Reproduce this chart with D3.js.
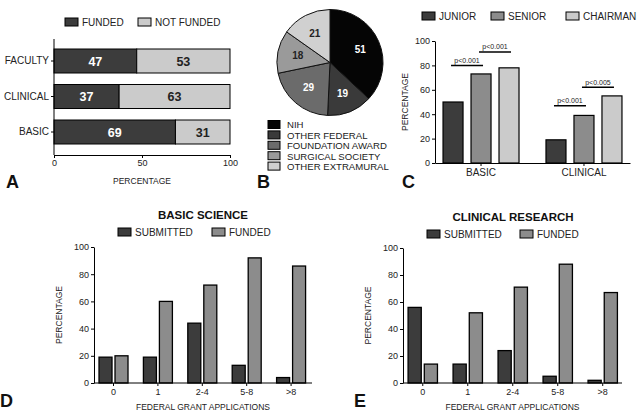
<!DOCTYPE html>
<html><head><meta charset="utf-8">
<script src="https://cdn.jsdelivr.net/npm/d3@7"></script>
<style>body{margin:0;background:#fff}svg{display:block;font-family:"Liberation Sans",Arial,sans-serif}</style>
</head><body>
<svg id="c" width="639" height="418"></svg>
<script>
// ---- DATA ----
const aCategories = ["FACULTY", "CLINICAL", "BASIC"];
const aFunded = [47, 37, 69];
const aNotFunded = [53, 63, 31];
const aTicks = [0, 50, 100];

const pieLabels = ["NIH", "OTHER FEDERAL", "FOUNDATION AWARD", "SURGICAL SOCIETY", "OTHER EXTRAMURAL"];
const pieValues = [51, 19, 29, 18, 21];

const cGroups = ["BASIC", "CLINICAL"];
const cSeries = ["JUNIOR", "SENIOR", "CHAIRMAN"];
const cBasic = [50, 73, 78];
const cClinical = [19, 39, 55];
const cTicks = [0, 20, 40, 60, 80, 100];

const appCategories = ["0", "1", "2-4", "5-8", ">8"];
const appSeries = ["SUBMITTED", "FUNDED"];
const dSubmitted = [19, 19, 44, 13, 4];
const dFunded = [20, 60, 72, 92, 86];
const eSubmitted = [56, 14, 24, 5, 2];
const eFunded = [14, 52, 71, 88, 67];

// ---- STYLE ----
const DARK = "#3c3c3c", MID = "#8c8c8c", LIGHT = "#cbcbcb";
const svg = d3.select("#c");
const T = "#222";

function legendItem(g, x, y, color, label, fs) {
  g.append("rect").attr("x", x).attr("y", y).attr("width", 13).attr("height", 8)
    .attr("fill", color).attr("stroke", "#000").attr("stroke-width", 1);
  g.append("text").attr("x", x + 17).attr("y", y + 7.5).attr("font-size", fs || 10).attr("fill", T).text(label);
}
function panelLetter(x, y, t) {
  svg.append("text").attr("x", x).attr("y", y).attr("font-size", 18).attr("font-weight", "bold").attr("fill", "#111").text(t);
}
function styleAxis(g, fs) {
  g.selectAll("path,line").attr("stroke", "#000").attr("stroke-width", 1);
  g.selectAll("text").attr("font-size", fs).attr("fill", T).attr("font-family", "Liberation Sans, Arial, sans-serif");
}

// ---- PANEL A ----
{
  const g = svg.append("g");
  const x = d3.scaleLinear().domain([0, 100]).range([54, 230]);
  const y = d3.scaleBand().domain(aCategories).range([43.25, 149.75]).paddingInner(0.324).paddingOuter(0.162);
  aCategories.forEach((c, i) => {
    g.append("rect").attr("x", x(0)).attr("y", y(c)).attr("width", x(aFunded[i]) - x(0)).attr("height", y.bandwidth())
      .attr("fill", DARK).attr("stroke", "#000").attr("stroke-width", 1);
    g.append("rect").attr("x", x(aFunded[i])).attr("y", y(c)).attr("width", x(100) - x(aFunded[i])).attr("height", y.bandwidth())
      .attr("fill", LIGHT).attr("stroke", "#000").attr("stroke-width", 1);
    g.append("text").attr("x", (x(0) + x(aFunded[i])) / 2).attr("y", y(c) + y.bandwidth() / 2 + 4.5)
      .attr("text-anchor", "middle").attr("font-size", 12.5).attr("font-weight", "bold").attr("fill", "#fff").text(aFunded[i]);
    g.append("text").attr("x", (x(aFunded[i]) + x(100)) / 2).attr("y", y(c) + y.bandwidth() / 2 + 4.5)
      .attr("text-anchor", "middle").attr("font-size", 12.5).attr("font-weight", "bold").attr("fill", "#222").text(aNotFunded[i]);
  });
  const ya = g.append("g").attr("transform", "translate(54,0)").call(d3.axisLeft(y).tickSize(3).tickPadding(2));
  ya.select(".domain").attr("d", "M0,39V155");
  styleAxis(ya, 10);
  const xa = g.append("g").attr("transform", "translate(0,155)").call(d3.axisBottom(x).tickValues(aTicks).tickSize(3).tickPadding(2).tickSizeOuter(0));
  styleAxis(xa, 9);
  g.append("text").attr("x", 142).attr("y", 184).attr("text-anchor", "middle").attr("font-size", 8.5).attr("fill", T).text("PERCENTAGE");
  legendItem(g, 65, 18, DARK, "FUNDED");
  legendItem(g, 138, 18, LIGHT, "NOT FUNDED");
  panelLetter(6, 188, "A");
}

// ---- PANEL B ----
{
  const g = svg.append("g").attr("transform", "translate(330,62.5)");
  const colors = ["#050505", "#3a3a3a", "#6b6b6b", "#9a9a9a", "#d0d0d0"];
  const textCol = ["#fff", "#fff", "#fff", "#222", "#222"];
  const pie = d3.pie().sort(null).value(d => d)(pieValues);
  const arc = d3.arc().innerRadius(0).outerRadius(53);
  const lab = d3.arc().innerRadius(33).outerRadius(33);
  g.selectAll("path").data(pie).join("path").attr("d", arc)
    .attr("fill", (d, i) => colors[i]).attr("stroke", "#111").attr("stroke-width", 1);
  g.selectAll("text").data(pie).join("text")
    .attr("transform", d => `translate(${lab.centroid(d)})`).attr("dy", "0.35em")
    .attr("text-anchor", "middle").attr("font-size", 10).attr("font-weight", "bold")
    .attr("fill", (d, i) => textCol[i]).text(d => d.data);
  const lg = svg.append("g");
  pieLabels.forEach((l, i) => {
    const yy = 120.5 + i * 10.4;
    lg.append("rect").attr("x", 268).attr("y", yy).attr("width", 12).attr("height", 8)
      .attr("fill", colors[i]).attr("stroke", "#000").attr("stroke-width", 1);
    lg.append("text").attr("x", 287).attr("y", yy + 7.8).attr("font-size", 9.6).attr("fill", T).text(l);
  });
  panelLetter(257, 188, "B");
}

// ---- PANEL C ----
{
  const g = svg.append("g");
  const y = d3.scaleLinear().domain([0, 100]).range([163, 41]);
  const x0 = d3.scaleBand().domain(cGroups).range([435, 630]).paddingInner(0.262).paddingOuter(0.078);
  const x1 = d3.scaleBand().domain(cSeries).range([0, x0.bandwidth()]).paddingInner(0.2857);
  const colors = [DARK, MID, LIGHT];
  const data = [cBasic, cClinical];
  cGroups.forEach((grp, gi) => {
    cSeries.forEach((s, si) => {
      g.append("rect").attr("x", x0(grp) + x1(s)).attr("y", y(data[gi][si]))
        .attr("width", x1.bandwidth()).attr("height", y(0) - y(data[gi][si]))
        .attr("fill", colors[si]).attr("stroke", "#000").attr("stroke-width", 1.2);
    });
  });
  const ya = g.append("g").attr("transform", "translate(435,0)").call(d3.axisLeft(y).tickValues(cTicks).tickSize(3).tickPadding(2).tickSizeOuter(0));
  styleAxis(ya, 9);
  const xa = g.append("g").attr("transform", "translate(0,163)").call(d3.axisBottom(x0).tickSize(3).tickPadding(3).tickSizeOuter(0));
  styleAxis(xa, 10);
  g.append("text").attr("transform", "translate(408,102) rotate(-90)").attr("text-anchor", "middle").attr("font-size", 8.5).attr("fill", T).text("PERCENTAGE");
  // significance bars
  const sig = [
    { g: "BASIC", a: "JUNIOR", b: "SENIOR", v: 80, t: "p<0.001" },
    { g: "BASIC", a: "SENIOR", b: "CHAIRMAN", v: 91, t: "p<0.001" },
    { g: "CLINICAL", a: "JUNIOR", b: "SENIOR", v: 47, t: "p<0.001" },
    { g: "CLINICAL", a: "SENIOR", b: "CHAIRMAN", v: 62, t: "p<0.005" }
  ];
  sig.forEach(s => {
    const xa1 = x0(s.g) + x1(s.a) + x1.bandwidth() / 2 - 2;
    const xb1 = x0(s.g) + x1(s.b) + x1.bandwidth() / 2 + 2;
    g.append("line").attr("x1", xa1).attr("x2", xb1).attr("y1", y(s.v)).attr("y2", y(s.v)).attr("stroke", "#000").attr("stroke-width", 1.5);
    g.append("text").attr("x", (xa1 + xb1) / 2).attr("y", y(s.v) - 2.5).attr("text-anchor", "middle").attr("font-size", 7).attr("fill", T).text(s.t);
  });
  legendItem(g, 422, 12, DARK, "JUNIOR");
  legendItem(g, 491, 12, MID, "SENIOR");
  legendItem(g, 566, 12, LIGHT, "CHAIRMAN");
  panelLetter(402, 188, "C");
}

// ---- PANELS D & E ----
function appPanel(opts) {
  const g = svg.append("g");
  const y = d3.scaleLinear().domain([0, 100]).range([opts.y0, opts.y100]);
  const x0 = d3.scaleBand().domain(appCategories).range([opts.xL, opts.xR]).paddingInner(0.347).paddingOuter(0.113);
  const x1 = d3.scaleBand().domain(appSeries).range([0, x0.bandwidth()]).paddingInner(0.1875);
  const colors = [DARK, MID];
  const data = [opts.sub, opts.fun];
  appCategories.forEach((c, ci) => {
    appSeries.forEach((s, si) => {
      g.append("rect").attr("x", x0(c) + x1(s)).attr("y", y(data[si][ci]))
        .attr("width", x1.bandwidth()).attr("height", y(0) - y(data[si][ci]))
        .attr("fill", colors[si]).attr("stroke", "#000").attr("stroke-width", 1.3);
    });
  });
  const ya = g.append("g").attr("transform", `translate(${opts.xL},0)`).call(d3.axisLeft(y).tickValues(cTicks).tickSize(3).tickPadding(2).tickSizeOuter(0));
  styleAxis(ya, 9);
  const xa = g.append("g").attr("transform", `translate(0,${opts.y0})`).call(d3.axisBottom(x0).tickSize(3).tickPadding(3).tickSizeOuter(0));
  xa.select(".domain").attr("d", `M${opts.xL},0H${opts.axEnd}`);
  styleAxis(xa, 9);
  const cx = (opts.xL + opts.axEnd) / 2;
  g.append("text").attr("x", cx).attr("y", 410).attr("text-anchor", "middle").attr("font-size", 8.5).attr("fill", T).text("FEDERAL GRANT APPLICATIONS");
  g.append("text").attr("transform", `translate(${opts.xL - 32},${(opts.y0 + opts.y100) / 2}) rotate(-90)`).attr("text-anchor", "middle").attr("font-size", 8.5).attr("fill", T).text("PERCENTAGE");
  g.append("text").attr("x", opts.titleX).attr("y", opts.titleY).attr("text-anchor", "middle").attr("font-size", 11.5).attr("font-weight", "bold").attr("fill", "#111").text(opts.title);
  legendItem(g, opts.lg1, opts.titleY + 9, DARK, appSeries[0]);
  legendItem(g, opts.lg2, opts.titleY + 9, MID, appSeries[1]);
  panelLetter(opts.letterX, 407, opts.letter);
}
appPanel({ sub: dSubmitted, fun: dFunded, xL: 94, xR: 310.6, axEnd: 312, y0: 383, y100: 247,
  title: "BASIC SCIENCE", titleX: 203, titleY: 219, lg1: 118, lg2: 212, letter: "D", letterX: 0 });
appPanel({ sub: eSubmitted, fun: eFunded, xL: 403, xR: 622.5, axEnd: 622, y0: 383, y100: 248,
  title: "CLINICAL RESEARCH", titleX: 513, titleY: 221, lg1: 427, lg2: 520, letter: "E", letterX: 354 });
</script>
</body></html>
